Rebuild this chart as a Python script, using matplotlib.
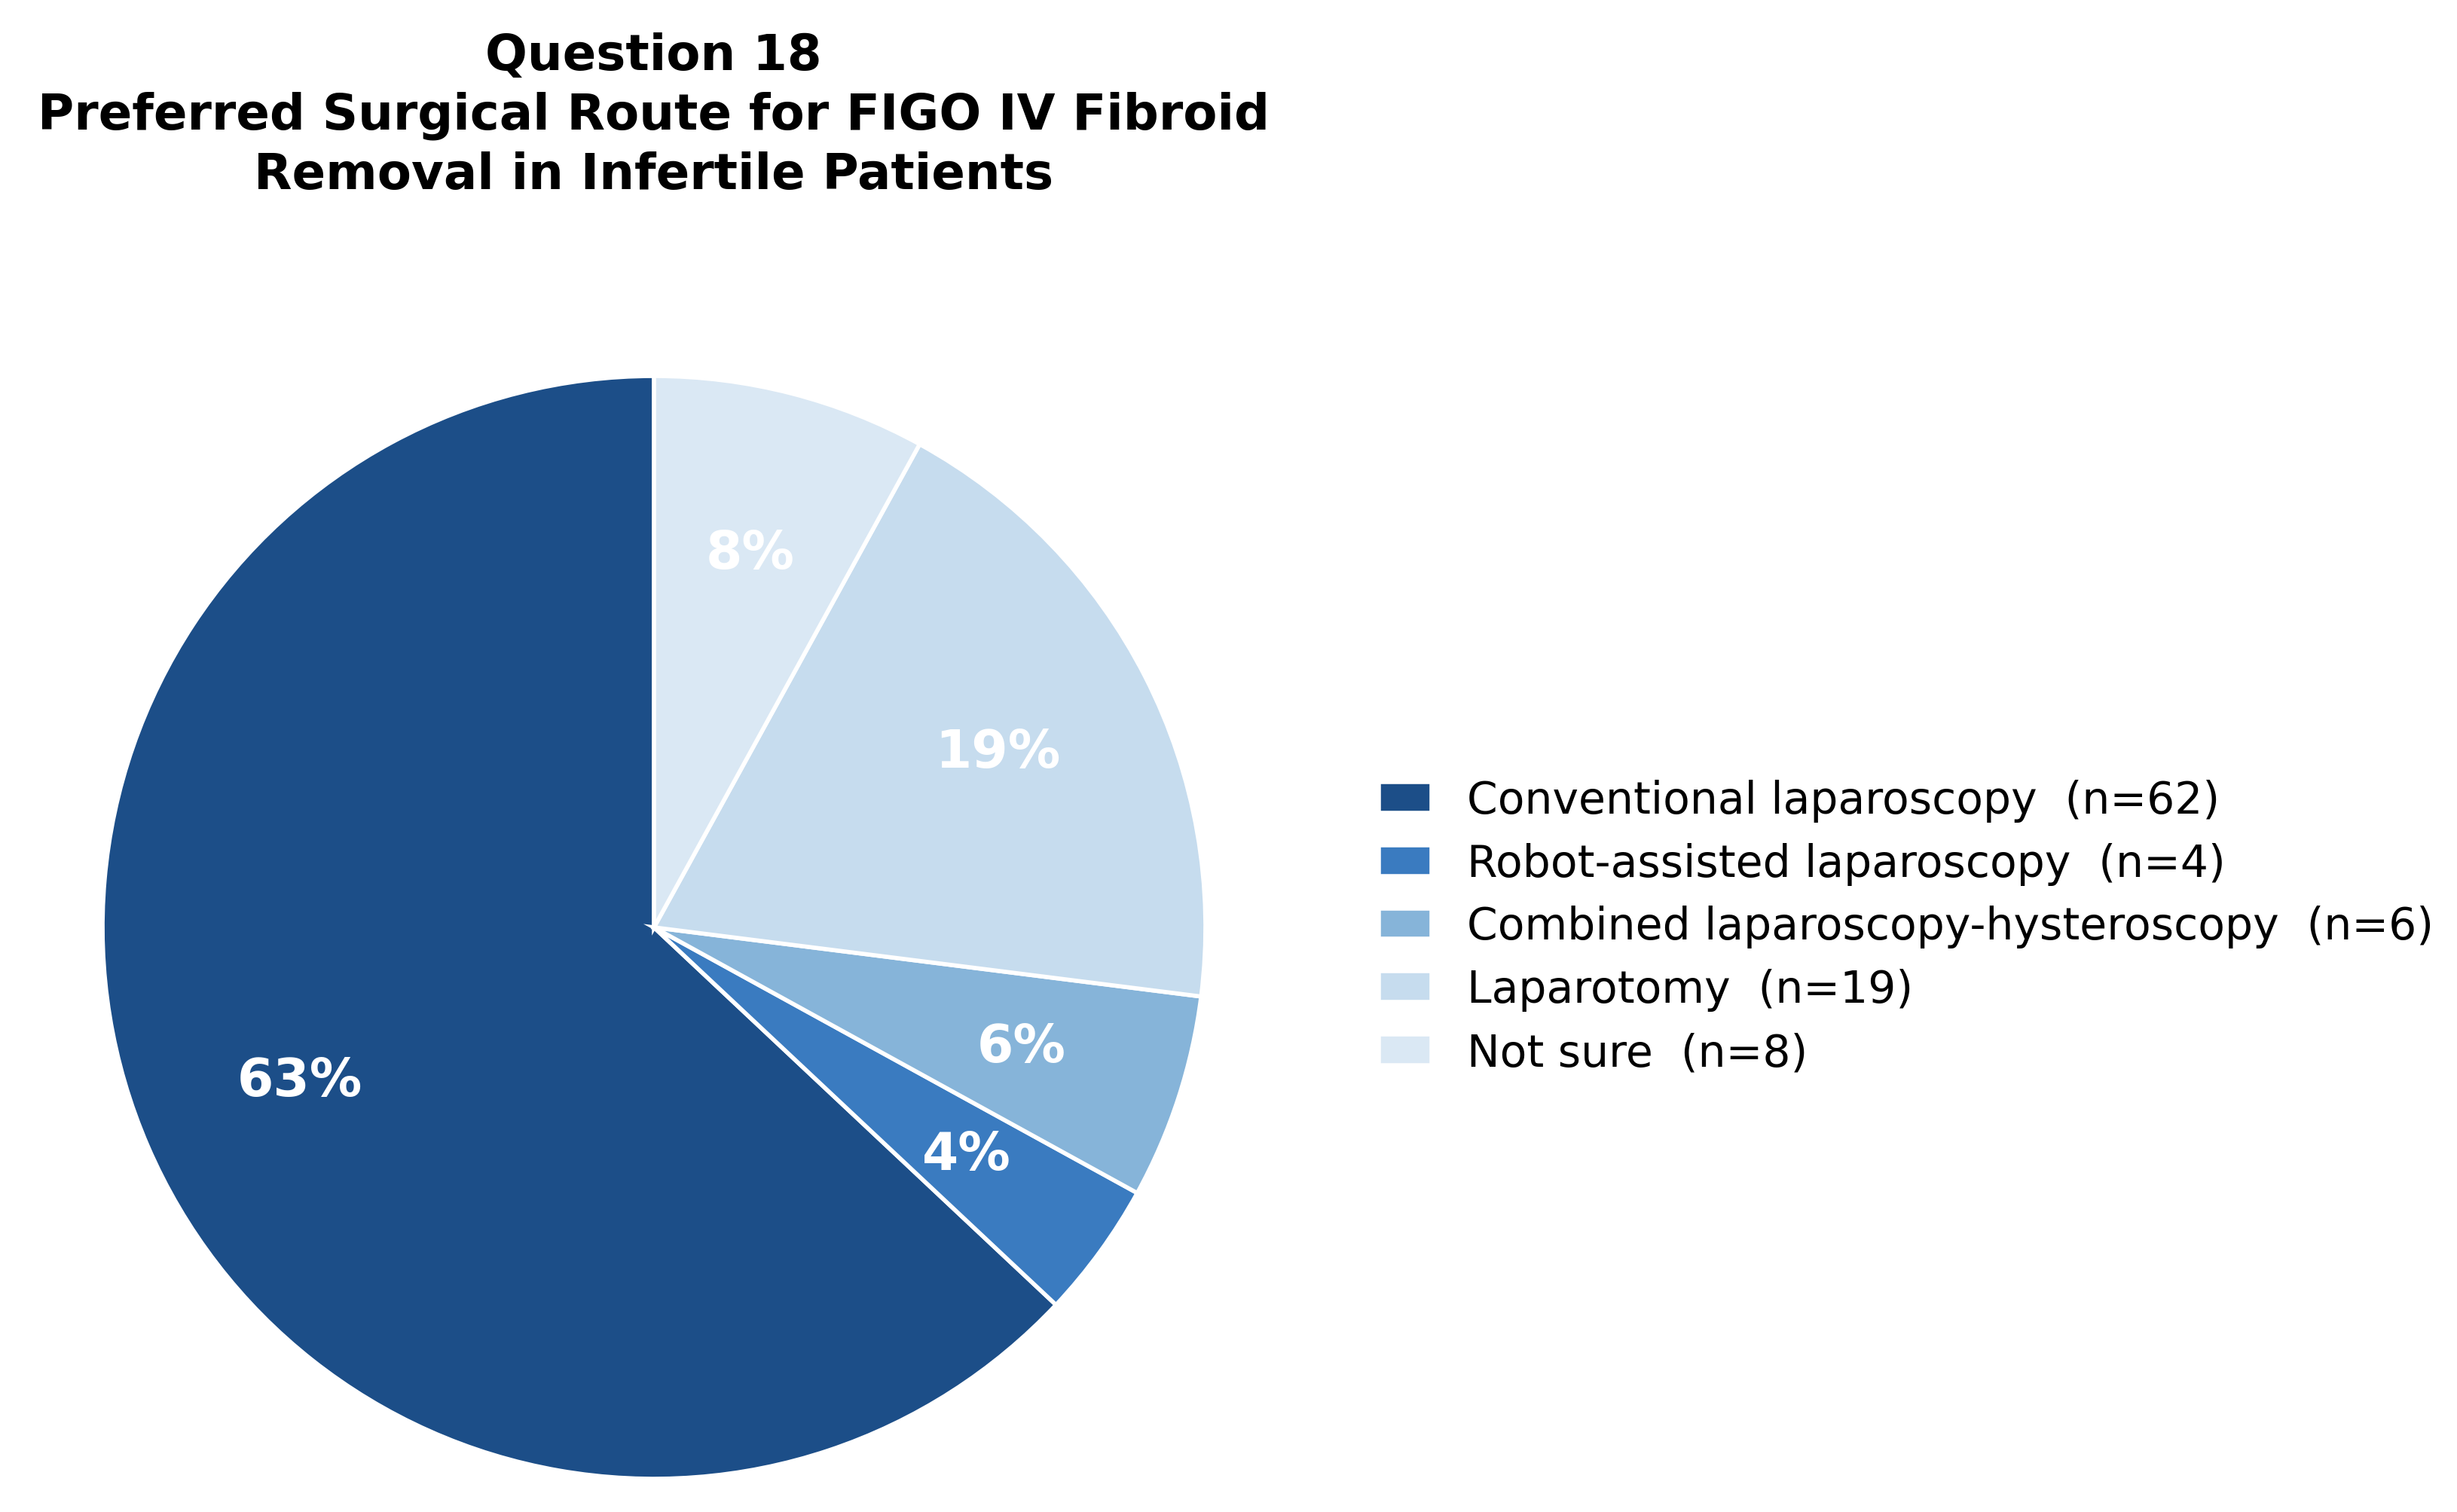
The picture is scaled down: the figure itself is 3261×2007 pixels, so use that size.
import matplotlib.pyplot as plt

# Survey answers, Question 18
labels = ['Conventional laparoscopy', 'Robot-assisted laparoscopy',
          'Combined laparoscopy-hysteroscopy', 'Laparotomy', 'Not sure']
counts = [62, 4, 6, 19, 8]
percents = [63, 4, 6, 19, 8]  # rounded shares, as drawn in the pie
colors = ['#1c4e88', '#3a7bc0', '#86b4d9', '#c6dcee', '#dae8f4']

title = 'Question 18\nPreferred Surgical Route for FIGO IV Fibroid\nRemoval in Infertile Patients'

fig = plt.figure(figsize=(16.31, 10.04), dpi=200)
ax = fig.add_axes([0.0305, 0.0037, 0.4712, 0.7655])

wedges, texts, autotexts = ax.pie(percents, colors=colors, startangle=90, counterclock=True,
                                  autopct='%1.0f%%', pctdistance=0.7,
                                  wedgeprops=dict(edgecolor='white', linewidth=2))
for t in autotexts:
    t.set_color('white')
    t.set_fontsize(25)
    t.set_fontweight('bold')
ax.set_xlim(-1.05, 1.05)
ax.set_ylim(-1.05, 1.05)
ax.set_aspect('equal')

fig.text(0.266, 1 - 154 / 2008, title, ha='center', va='center', fontsize=23.7,
         fontweight='bold', multialignment='center', linespacing=1.3)

leg_labels = [f'{l}  (n={n})' for l, n in zip(labels, counts)]
fig.legend(wedges, leg_labels, loc='center left', bbox_to_anchor=(0.545, 0.387),
           frameon=False, fontsize=21, handlelength=1.2, handleheight=0.7,
           labelspacing=0.46)

fig.savefig('out.png', dpi=200)
